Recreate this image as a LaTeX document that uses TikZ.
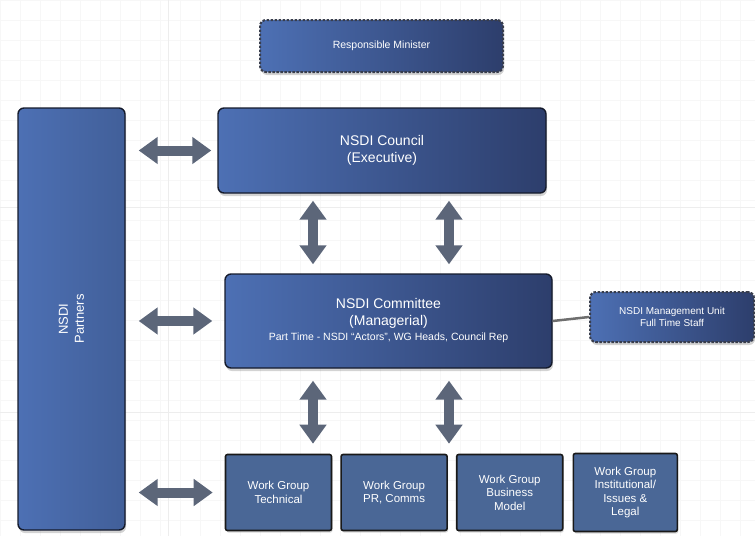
\documentclass[tikz,border=0pt]{standalone}
\usepackage{fontspec}
\setmainfont{Liberation Sans}
\setsansfont{Liberation Sans}
\usetikzlibrary{positioning, arrows.meta, shadows, calc}
\usepackage{xcolor}

\definecolor{boxlight}{HTML}{4D70B4}
\definecolor{boxdark}{HTML}{2D3E6C}
\definecolor{boxedge}{HTML}{151B2C}
\definecolor{wgfill}{HTML}{4A6796}
\definecolor{arrowgray}{HTML}{5C6679}
\definecolor{linkgray}{HTML}{6E6E6E}

\begin{document}
\begin{tikzpicture}[
    x=1pt, y=-1pt,
    font=\sffamily,
    bluebox/.style={draw=boxedge, line width=1.4pt, rounded corners=6pt, left color=boxlight, right color=boxdark, text=white, align=center, drop shadow={opacity=0.35, shadow xshift=1pt, shadow yshift=-3pt}},
    dashbox/.style={bluebox, dash pattern=on 2.5pt off 1.5pt, line width=2pt, draw=boxedge!85},
    wgbox/.style={draw=black!90, line width=1.6pt, rounded corners=2pt, fill=wgfill, text=white, align=center, minimum width=106pt, minimum height=76pt, font=\fontsize{11.5}{13.5}\selectfont, drop shadow={opacity=0.3, shadow xshift=1pt, shadow yshift=-2pt}},
    dbl/.style={draw=arrowgray, line width=10pt, {Triangle[width=26pt,length=19pt]}-{Triangle[width=26pt,length=19pt]}},
    link/.style={draw=linkgray, line width=2.5pt}
]
\useasboundingbox (0,0) rectangle (755,536);

% faint grid in the back
\foreach \gx in {0,20,...,740} \draw[black!3, line width=0.4pt] (\gx,0) -- (\gx,536);
\foreach \gy in {0,20,...,520} \draw[black!3, line width=0.4pt] (0,\gy) -- (755,\gy);
\draw[black!7, line width=0.5pt] (168,0) -- (168,536);
\draw[black!7, line width=0.5pt] (0,207) -- (755,207);
\draw[black!7, line width=0.5pt] (0,412) -- (755,412);

% Nodes
\node[dashbox, minimum width=243pt, minimum height=52pt, font=\fontsize{10.5}{12}\selectfont] (minister) at (381.5,46) {Responsible Minister};
\node[bluebox, left color=boxlight, right color=boxlight!85!black, minimum width=107pt, minimum height=422pt] (partners) at (71.5,319) {};
\node[text=white, rotate=90, align=center, font=\fontsize{13}{16}\selectfont] (partnerstext) at (partners.center) {NSDI\\Partners};
\node[bluebox, minimum width=328pt, minimum height=85pt, font=\fontsize{14}{17}\selectfont] (council) at (382,150.5) {NSDI Council\\(Executive)};
\node[bluebox, minimum width=327pt, minimum height=94pt, font=\fontsize{14}{17}\selectfont] (committee) at (388.5,321) {NSDI Committee\\(Managerial)\\[-2pt]{\fontsize{10.5}{12}\selectfont Part Time - NSDI ``Actors'', WG Heads, Council Rep}};
\node[dashbox, minimum width=164pt, minimum height=50pt, font=\fontsize{10}{12}\selectfont] (mgmt) at (672,317) {NSDI Management Unit\\Full Time Staff};

\node[wgbox] (wgtech) at (278.5,492.5) {Work Group\\Technical};
\node[wgbox, right=8pt of wgtech] (wgpr) {Work Group\\PR, Comms};
\node[wgbox, right=8pt of wgpr] (wgbiz) {Work Group\\Business\\Model};
\node[wgbox, right=9pt of wgbiz, minimum width=104pt, minimum height=78pt] (wglegal) {Work Group\\Institutional/\\Issues \&\\Legal};

\coordinate (vleft) at (313,0);
\coordinate (vright) at (449,0);

% Edges
\draw[dbl, shorten <=13pt, shorten >=6pt] (partners.east |- council.west) -- (council.west);
\draw[dbl, shorten <=13pt, shorten >=12pt] (partners.east |- committee.west) -- (committee.west);
\draw[dbl, shorten <=13pt, shorten >=12pt] (partners.east |- wgtech.west) -- (wgtech.west);
\draw[dbl, shorten <=7pt, shorten >=9pt] (council.south -| vleft) -- (committee.north -| vleft);
\draw[dbl, shorten <=7pt, shorten >=9pt] (council.south -| vright) -- (committee.north -| vright);
\draw[dbl, shorten <=12pt, shorten >=10pt] (committee.south -| vleft) -- (wgtech.north -| vleft);
\draw[dbl, shorten <=12pt, shorten >=10pt] (committee.south -| vright) -- (wgtech.north -| vright);
\draw[link] (committee.east) -- (mgmt.west);

\end{tikzpicture}
\end{document}
